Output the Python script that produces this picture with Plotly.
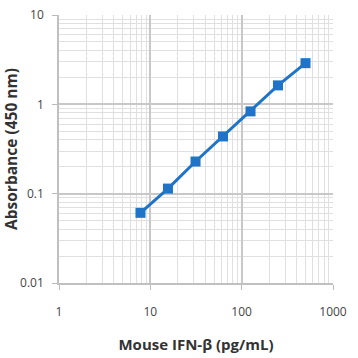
import plotly.graph_objects as go

conc = [7.8, 15.6, 31.25, 62.5, 125, 250, 500]
absorbance = [0.061, 0.114, 0.229, 0.437, 0.834, 1.63, 2.89]
x_ticks = [1, 10, 100, 1000]
x_tick_text = ["1", "10", "100", "1000"]
y_ticks = [0.01, 0.1, 1, 10]
y_tick_text = ["0.01", "0.1", "1", "10"]

fig = go.Figure()
fig.add_trace(go.Scatter(
    x=conc, y=absorbance, mode="lines+markers",
    line=dict(color="#1F74C8", width=3),
    marker=dict(symbol="square", size=10, color="#1F74C8"),
    showlegend=False,
))

grid_minor = dict(showgrid=True, gridcolor="#E0E0E0", gridwidth=1)
common = dict(
    showgrid=True, gridcolor="#C8C8C8", gridwidth=1.5,
    minor=dict(ticks="", **grid_minor, dtick="D1"),
    ticks="outside", ticklen=5, tickcolor="#BBBBBB",
    showline=True, linecolor="#C0C0C0", linewidth=1.5, zeroline=False,
    tickfont=dict(family="Open Sans", size=12, color="#444444"),
    automargin=False,
)
fig.update_xaxes(
    type="log", range=[0, 3], tickvals=x_ticks, ticktext=x_tick_text,
    ticklabelstandoff=12,
    title=dict(text="<b>Mouse IFN-β (pg/mL)</b>", standoff=20,
               font=dict(family="Open Sans", size=15, color="#333333")),
    **common,
)
fig.update_yaxes(
    type="log", range=[-2, 1], tickvals=y_ticks, ticktext=y_tick_text,
    ticklabelstandoff=6,
    title=dict(text="<b>Absorbance (450 nm)</b>", standoff=1,
               font=dict(family="Open Sans", size=15.5, color="#333333")),
    **common,
)
fig.update_layout(
    width=358, height=358,
    margin=dict(l=59, r=25, t=15, b=75),
    paper_bgcolor="white", plot_bgcolor="white",
)
fig.write_html("out.html")
